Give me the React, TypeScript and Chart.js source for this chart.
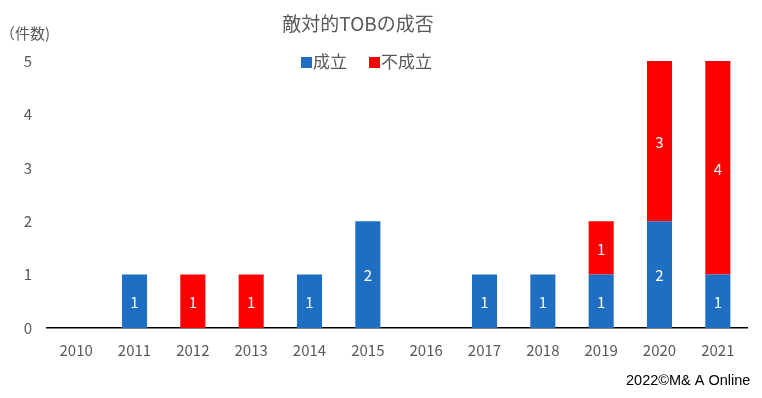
import React, { useEffect, useRef } from "react";
import { Chart, registerables } from "chart.js";

Chart.register(...registerables);

const years = ["2010", "2011", "2012", "2013", "2014", "2015", "2016", "2017", "2018", "2019", "2020", "2021"];
const success = [0, 1, 0, 0, 1, 2, 0, 1, 1, 1, 2, 1];
const failure = [0, 0, 1, 1, 0, 0, 0, 0, 0, 1, 3, 4];
const yTicks = [0, 1, 2, 3, 4, 5];
const seriesNames = ["成立", "不成立"];
const seriesColors = ["#1E6FC3", "#FF0000"];
const titleText = "敵対的TOBの成否";
const unitText = "（件数)";
const footerText = "2022©M& A Online";

const FONT = "'Noto Sans CJK JP', 'Noto Sans', sans-serif";
const GRAY = "#595959";

const overlay = {
  id: "overlay",
  afterDatasetsDraw(chart: any) {
    const ctx = chart.ctx;
    ctx.save();
    // data labels
    ctx.font = `15px ${FONT}`;
    ctx.fillStyle = "#ffffff";
    ctx.textAlign = "center";
    ctx.textBaseline = "middle";
    chart.data.datasets.forEach((ds: any, di: number) => {
      const meta = chart.getDatasetMeta(di);
      meta.data.forEach((bar: any, i: number) => {
        const v = ds.data[i];
        if (!v) return;
        const p = bar.getProps(["x", "y", "base"], true);
        ctx.fillText(String(v), p.x, (p.y + p.base) / 2 + 1);
      });
    });
    // title
    ctx.fillStyle = GRAY;
    ctx.font = `19px ${FONT}`;
    ctx.fillText(titleText, 358, 24);
    // unit label
    ctx.font = `15px ${FONT}`;
    ctx.textAlign = "left";
    ctx.fillText(unitText, 0, 33);
    // legend
    ctx.font = `17px ${FONT}`;
    let x = 301;
    chart.data.datasets.forEach((ds: any) => {
      ctx.fillStyle = ds.backgroundColor;
      ctx.fillRect(x, 57, 11, 11);
      ctx.fillStyle = GRAY;
      ctx.fillText(ds.label, x + 12, 62);
      x += 12 + ctx.measureText(ds.label).width + 22;
    });
    // footer
    ctx.fillStyle = "#000000";
    ctx.font = `14.5px 'Liberation Sans', 'Noto Sans', sans-serif`;
    ctx.fillText(footerText, 626, 381);
    ctx.restore();
  },
};

export default function App() {
  const ref = useRef<HTMLCanvasElement>(null);
  useEffect(() => {
    document.body.style.margin = "0";
    const chart = new Chart(ref.current!, {
      type: "bar",
      data: {
        labels: years,
        datasets: [
          { label: seriesNames[0], data: success, backgroundColor: seriesColors[0] },
          { label: seriesNames[1], data: failure, backgroundColor: seriesColors[1] },
        ],
      },
      options: {
        animation: false,
        responsive: false,
        maintainAspectRatio: false,
        layout: { padding: { top: 61, right: 15, left: 0, bottom: 0 } },
        datasets: { bar: { categoryPercentage: 1, barPercentage: 0.43 } },
        plugins: { legend: { display: false }, title: { display: false }, tooltip: { enabled: false } },
        scales: {
          x: {
            stacked: true,
            grid: { display: false },
            border: { display: true, color: "#000000", width: 1.5 },
            ticks: { color: GRAY, font: { family: FONT, size: 15 }, padding: 5, maxRotation: 0 },
            afterFit: (s: any) => { s.height = 70; },
          },
          y: {
            stacked: true,
            min: 0,
            max: 5,
            grid: { display: false, drawTicks: false },
            border: { display: false },
            afterBuildTicks: (s: any) => { s.ticks = yTicks.map((v) => ({ value: v })); },
            ticks: { color: GRAY, font: { family: FONT, size: 15 }, padding: 15 },
            afterFit: (s: any) => { s.width = 47; },
          },
        },
      },
      plugins: [overlay],
    });
    return () => chart.destroy();
  }, []);
  return (
    <div style={{ width: 762, height: 398, position: "relative", background: "#fff" }}>
      <canvas ref={ref} width={762} height={398} style={{ display: "block" }} />
    </div>
  );
}
